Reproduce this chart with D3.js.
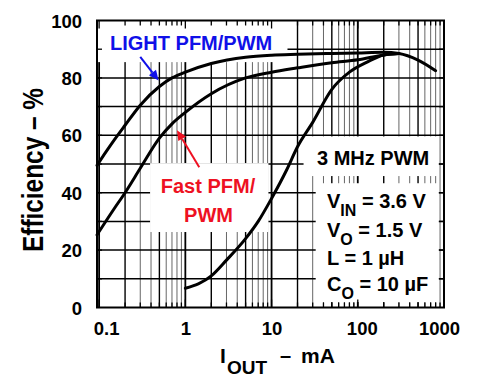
<!DOCTYPE html>
<html><head><meta charset="utf-8">
<script src="https://cdn.jsdelivr.net/npm/d3@7"></script>
<style>body{margin:0;background:#fff}svg{display:block}</style>
</head><body><svg id="c" width="500" height="382"></svg>
<script>
// ---- data ----
const xTickValues = [0.1, 1, 10, 100, 1000];
const xTickLabels = ["0.1", "1", "10", "100", "1000"];
const yTickValues = [0, 20, 40, 60, 80, 100];
const seriesNames = ["LIGHT PFM/PWM", "Fast PFM/PWM", "3 MHz PWM"];
const lightCurrent = [0.0945,0.12,0.15,0.2,0.3,0.5,0.7,1,2,5,10,20,50,100,200,300,500,800];
const lightEff     = [49.5,54.2,58.4,63.5,70.5,77,80,82,85,87.2,87.9,88.2,88.5,88.7,88.9,88.5,86.2,82.5];
const fastCurrent  = [0.0945,0.15,0.2,0.3,0.5,0.7,1,2,5,10,20,50,100,200,300];
const fastEff      = [25.3,34.5,40,48.5,59,64,68,74.5,80,82,83.5,85.3,86.3,88,88.5];
const pwmCurrent   = [1,2,3,5,7,10,15,20,30,50,80,130,200,300];
const pwmEff       = [6.7,11,16.5,24,30,38,48,56,64.5,76,82,85.6,88,88.5];

// ---- layout ----
const svg = d3.select("#c");
const L = 97, R = 444, T = 20.5, B = 307.5;
const x = d3.scaleLog().domain([0.0945, 1000]).range([L, R]);
const y = d3.scaleLinear().domain([0, 100]).range([B, T]);
const FONT = "'Liberation Sans', Arial, Helvetica, sans-serif";

svg.append("rect").attr("width", 500).attr("height", 382).attr("fill", "#fff");

// grid values
const minorVals = [];
[0.1, 1, 10, 100].forEach(d => { for (let m = 1; m <= 9; m++) minorVals.push(+(d * m).toPrecision(3)); });
minorVals.push(1000);
const gridX = minorVals.filter(v => v >= 0.0945 && v <= 1000);
const isMajor = v => Math.abs(Math.log10(v) - Math.round(Math.log10(v))) < 1e-6;
const isDark = v => { const m = Math.round(v / Math.pow(10, Math.floor(Math.log10(v) + 1e-9))); return m === 1 || m === 2 || m === 5; };

const g = svg.append("g");
g.selectAll("line.vx").data(gridX).join("line")
  .attr("x1", d => x(d)).attr("x2", d => x(d)).attr("y1", T).attr("y2", B)
  .attr("stroke", d => isDark(d) ? "#000" : "#666")
  .attr("stroke-width", d => isMajor(d) ? 1.8 : (isDark(d) ? 1.4 : 1));
g.selectAll("line.hy").data(d3.range(10, 100, 10)).join("line")
  .attr("x1", L).attr("x2", R).attr("y1", d => y(d)).attr("y2", d => y(d))
  .attr("stroke", "#000").attr("stroke-width", 1.5);

// white label boxes (in data coords)
const boxes = [
  [0.0945, 15.3, 100, 85.5],
  [0.39, 9.2, 50.3, 26.3],
  [23.5, 870, 59.6, 45.8],
  [32.5, 870, 43.3, 1.9]
];
svg.selectAll("rect.box").data(boxes).join("rect")
  .attr("x", d => x(d[0])).attr("y", d => y(d[2]))
  .attr("width", d => x(d[1]) - x(d[0])).attr("height", d => y(d[3]) - y(d[2]))
  .attr("fill", "#fff");

// inward ticks
const tk = svg.append("g").attr("stroke", "#000").attr("stroke-width", 1.3);
gridX.forEach(v => {
  const len = isMajor(v) ? 8 : 5;
  tk.append("line").attr("x1", x(v)).attr("x2", x(v)).attr("y1", B).attr("y2", B - len);
  tk.append("line").attr("x1", x(v)).attr("x2", x(v)).attr("y1", T).attr("y2", T + len);
});
d3.range(10, 100, 10).forEach(v => {
  tk.append("line").attr("x1", L).attr("x2", L + 5).attr("y1", y(v)).attr("y2", y(v));
  tk.append("line").attr("x1", R).attr("x2", R - 5).attr("y1", y(v)).attr("y2", y(v));
});

// frame
svg.append("rect").attr("x", L).attr("y", T).attr("width", R - L).attr("height", B - T)
  .attr("fill", "none").attr("stroke", "#000").attr("stroke-width", 2);

// curves
const line = d3.line().x(d => x(d[0])).y(d => y(d[1])).curve(d3.curveMonotoneX);
const series = [
  d3.zip(lightCurrent, lightEff),
  d3.zip(fastCurrent, fastEff),
  d3.zip(pwmCurrent, pwmEff)
];
svg.selectAll("path.s").data(series).join("path")
  .attr("d", line).attr("fill", "none").attr("stroke", "#000")
  .attr("stroke-width", 3).attr("stroke-linecap", "round");

// axis labels
const xa = d3.axisBottom(x).tickValues(xTickValues).tickFormat((d, i) => xTickLabels[i]).tickSize(0).tickPadding(0);
const xg = svg.append("g").attr("transform", `translate(0,${B})`).call(xa);
xg.select(".domain").remove();
xg.selectAll("text").attr("font-family", FONT).attr("font-weight", "bold").attr("font-size", 18.5)
  .attr("fill", "#000").attr("dy", null).attr("y", 27)
  .attr("dx", (d, i) => i === 0 ? 7 : (i === xTickValues.length - 1 ? -5 : (i === 3 ? 4 : 0)));

const ya = d3.axisLeft(y).tickValues(yTickValues).tickSize(0).tickPadding(15);
const yg = svg.append("g").attr("transform", `translate(${L},0)`).call(ya);
yg.select(".domain").remove();
yg.selectAll("text").attr("font-family", FONT).attr("font-weight", "bold").attr("font-size", 18.5)
  .attr("fill", "#000").attr("dy", "0.36em");

// y title
svg.append("text").attr("transform", "translate(43,170) rotate(-90)")
  .attr("text-anchor", "middle").attr("font-family", FONT).attr("font-weight", "bold")
  .attr("font-size", 29).attr("textLength", 164).attr("lengthAdjust", "spacingAndGlyphs")
  .text("Efficiency – %");

// x title
const xt = svg.append("g").attr("font-family", FONT).attr("font-weight", "bold").attr("fill", "#000");
xt.append("text").attr("x", 220).attr("y", 363).attr("font-size", 21).text("I");
xt.append("text").attr("x", 227).attr("y", 374).attr("font-size", 19).text("OUT");
xt.append("text").attr("x", 280).attr("y", 362).attr("font-size", 20).text("–");
xt.append("text").attr("x", 301).attr("y", 363).attr("font-size", 21).text("mA");

// annotations
const ann = svg.append("g").attr("font-family", FONT).attr("font-weight", "bold").attr("font-size", 20);
ann.append("text").attr("x", 110).attr("y", 50).attr("fill", "#1010e8").text(seriesNames[0]);
ann.append("text").attr("x", 208).attr("y", 193).attr("text-anchor", "middle").attr("fill", "#ee1122").text("Fast PFM/");
ann.append("text").attr("x", 208.5).attr("y", 222).attr("text-anchor", "middle").attr("fill", "#ee1122").text("PWM");
ann.append("text").attr("x", 317).attr("y", 165).attr("fill", "#000").text(seriesNames[2]);

function condLine(yy, main, sub, rest) {
  const t = ann.append("text").attr("x", 327).attr("y", yy).attr("fill", "#000");
  t.append("tspan").text(main);
  if (sub) t.append("tspan").attr("font-size", 16).attr("dy", 8).text(sub);
  t.append("tspan").attr("dy", sub ? -8 : 0).text(rest);
}
condLine(208, "V", "IN", " = 3.6 V");
condLine(237, "V", "O", " = 1.5 V");
condLine(265, "L", null, " = 1 µH");
condLine(291, "C", "O", " = 10 µF");

// arrows (data coords)
function arrow(from, to, color) {
  const x0 = x(from[0]), y0 = y(from[1]), x1 = x(to[0]), y1 = y(to[1]);
  const a = Math.atan2(y1 - y0, x1 - x0), hl = 10, hw = 4.5;
  const bx = x1 - hl * Math.cos(a), by = y1 - hl * Math.sin(a);
  svg.append("line").attr("x1", x0).attr("y1", y0).attr("x2", bx).attr("y2", by)
    .attr("stroke", color).attr("stroke-width", 2);
  svg.append("path").attr("d", `M${x1},${y1}L${bx + hw * Math.sin(a)},${by - hw * Math.cos(a)}L${bx - hw * Math.sin(a)},${by + hw * Math.cos(a)}Z`)
    .attr("fill", color);
}
arrow([0.3, 87.3], [0.49, 79.1], "#1010e8");
arrow([1.45, 48.9], [0.80, 61.8], "#ee1122");
</script>
</body></html>
